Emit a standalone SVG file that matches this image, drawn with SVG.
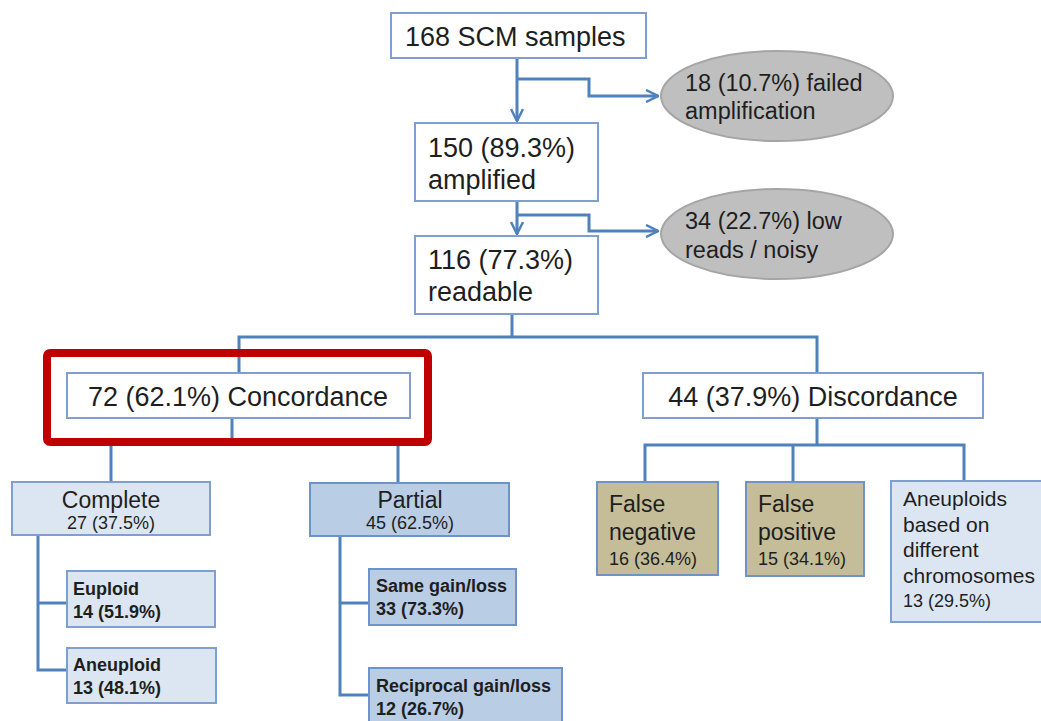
<svg xmlns="http://www.w3.org/2000/svg" width="1041" height="721" viewBox="0 0 1041 721">
<defs>
<style>
.t{font-family:"Liberation Sans",Arial,sans-serif;fill:#1e1e1e}
.big{font-size:27px}
.ell{font-size:23.5px}
.mid{font-size:23px}
.sm{font-size:18px}
.b{font-size:18px;font-weight:bold}
.wbox{fill:#ffffff;stroke:#7f9fd0;stroke-width:2}
.lbox{fill:#dce6f2;stroke:#7f9fd0;stroke-width:2}
.dbox{fill:#b9cde5;stroke:#6f93c8;stroke-width:2}
.kbox{fill:#c4bd97;stroke:#6f93c8;stroke-width:2}
.ellip{fill:#bfbfbf;stroke:#a5a5a5;stroke-width:2}
.c{fill:none;stroke:#4f81bd;stroke-width:3}
</style>
<marker id="arr" viewBox="0 0 14 14" refX="13" refY="7" markerWidth="14" markerHeight="14" markerUnits="userSpaceOnUse" orient="auto">
<path d="M1,1 L13,7 L1,13" fill="none" stroke="#4f81bd" stroke-width="2.5"/>
</marker>
</defs>
<rect width="1041" height="721" fill="#ffffff"/>

<g id="connectors">
<path class="c" d="M517,58 V121" marker-end="url(#arr)"/>
<path class="c" d="M517,79 H589 V96 H658" marker-end="url(#arr)"/>
<path class="c" d="M517,201 V234" marker-end="url(#arr)"/>
<path class="c" d="M517,215 H589 V231 H658" marker-end="url(#arr)"/>
<path class="c" d="M512,314 V337"/>
<path class="c" d="M239,373 V337 H817 V373"/>
<path class="c" d="M232,418 V440"/>
<path class="c" d="M111,482 V440 H398 V483"/>
<path class="c" d="M38,535 V670 H67"/>
<path class="c" d="M38,603 H67"/>
<path class="c" d="M340,536 V695 H369"/>
<path class="c" d="M340,603 H369"/>
<path class="c" d="M817,418 V445"/>
<path class="c" d="M645,482 V445 H964 V481"/>
<path class="c" d="M793,445 V482"/>
</g>

<g id="n-samples">
<rect class="wbox" x="391" y="13" width="255" height="45"/>
<text class="t big" x="405" y="46">168 SCM samples</text>
</g>

<g id="n-failed">
<ellipse class="ellip" cx="777" cy="96" rx="116" ry="45"/>
<text class="t ell" x="685" y="91">18 (10.7%) failed</text>
<text class="t ell" x="685" y="119">amplification</text>
</g>

<g id="n-amplified">
<rect class="wbox" x="415" y="123" width="183" height="78"/>
<text class="t big" x="428" y="157">150 (89.3%)</text>
<text class="t big" x="428" y="189">amplified</text>
</g>

<g id="n-noisy">
<ellipse class="ellip" cx="777" cy="234" rx="116" ry="45"/>
<text class="t ell" x="685" y="229">34 (22.7%) low</text>
<text class="t ell" x="685" y="258">reads / noisy</text>
</g>

<g id="n-readable">
<rect class="wbox" x="415" y="236" width="183" height="78"/>
<text class="t big" x="428" y="269">116 (77.3%)</text>
<text class="t big" x="428" y="301">readable</text>
</g>

<g id="n-concordance">
<rect class="wbox" x="67" y="373" width="343" height="45"/>
<text class="t big" x="238" y="406" text-anchor="middle">72 (62.1%) Concordance</text>
</g>

<g id="highlight">
<rect x="47" y="353" width="381" height="89" rx="3" fill="none" stroke="#c00000" stroke-width="8"/>
</g>

<g id="n-discordance">
<rect class="wbox" x="643" y="373" width="340" height="45"/>
<text class="t big" x="813" y="406" text-anchor="middle">44 (37.9%) Discordance</text>
</g>

<g id="n-complete">
<rect class="lbox" x="12" y="482" width="198" height="53"/>
<text class="t mid" x="111" y="508" text-anchor="middle">Complete</text>
<text class="t sm" x="111" y="529" text-anchor="middle">27 (37.5%)</text>
</g>

<g id="n-partial">
<rect class="dbox" x="310" y="483" width="199" height="53"/>
<text class="t mid" x="410" y="508" text-anchor="middle">Partial</text>
<text class="t sm" x="410" y="529" text-anchor="middle">45 (62.5%)</text>
</g>

<g id="n-euploid">
<rect class="lbox" x="67" y="571" width="148" height="56"/>
<text class="t b" x="73" y="595">Euploid</text>
<text class="t b" x="73" y="618">14 (51.9%)</text>
</g>

<g id="n-aneuploid">
<rect class="lbox" x="67" y="648" width="149" height="55"/>
<text class="t b" x="73" y="671">Aneuploid</text>
<text class="t b" x="73" y="694">13 (48.1%)</text>
</g>

<g id="n-same">
<rect class="dbox" x="369" y="569" width="147" height="56"/>
<text class="t b" x="376" y="592">Same gain/loss</text>
<text class="t b" x="376" y="615">33 (73.3%)</text>
</g>

<g id="n-reciprocal">
<rect class="dbox" x="369" y="668" width="193" height="60"/>
<text class="t b" x="376" y="692">Reciprocal gain/loss</text>
<text class="t b" x="376" y="715">12 (26.7%)</text>
</g>

<g id="n-falseneg">
<rect class="kbox" x="597" y="482" width="121" height="93"/>
<text class="t mid" x="609" y="512">False</text>
<text class="t mid" x="609" y="540">negative</text>
<text class="t sm" x="609" y="565">16 (36.4%)</text>
</g>

<g id="n-falsepos">
<rect class="kbox" x="746" y="482" width="118" height="94"/>
<text class="t mid" x="758" y="512">False</text>
<text class="t mid" x="758" y="540">positive</text>
<text class="t sm" x="758" y="565">15 (34.1%)</text>
</g>

<g id="n-aneuploids">
<rect class="lbox" x="891" y="481" width="160" height="141"/>
<text class="t" font-size="21" x="903" y="506">Aneuploids</text>
<text class="t" font-size="21" x="903" y="532">based on</text>
<text class="t" font-size="21" x="903" y="557">different</text>
<text class="t" font-size="21" x="903" y="583">chromosomes</text>
<text class="t sm" x="903" y="607">13 (29.5%)</text>
</g>
</svg>
